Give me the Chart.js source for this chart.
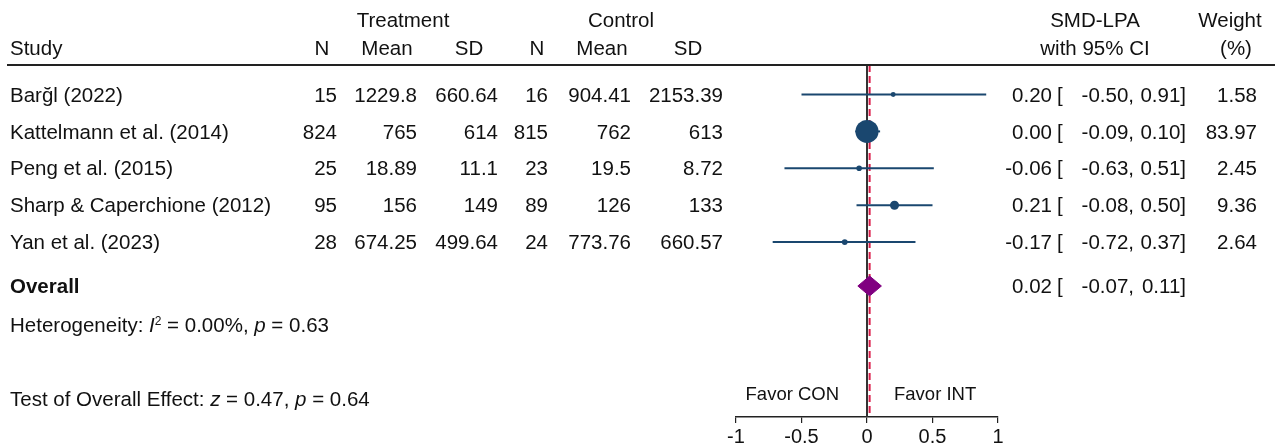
<!DOCTYPE html>
<html>
<head>
<meta charset="utf-8">
<script src="https://cdn.jsdelivr.net/npm/chart.js@4.4.1/dist/chart.umd.min.js"></script>
<style>
html,body{margin:0;padding:0;background:#fff;}
#wrap{width:1279px;height:448px;}
</style>
</head>
<body>
<div id="wrap"><canvas id="c" width="1279" height="448"></canvas></div>
<script>
// ---------- data ----------
const studies = ["Barğl (2022)", "Kattelmann et al. (2014)", "Peng et al. (2015)", "Sharp & Caperchione (2012)", "Yan et al. (2023)"];
const treatN = ["15", "824", "25", "95", "28"];
const treatMean = ["1229.8", "765", "18.89", "156", "674.25"];
const treatSD = ["660.64", "614", "11.1", "149", "499.64"];
const ctrlN = ["16", "815", "23", "89", "24"];
const ctrlMean = ["904.41", "762", "19.5", "126", "773.76"];
const ctrlSD = ["2153.39", "613", "8.72", "133", "660.57"];
const smd = [0.20, 0.00, -0.06, 0.21, -0.17];
const ciLow = [-0.50, -0.09, -0.63, -0.08, -0.72];
const ciHigh = [0.91, 0.10, 0.51, 0.50, 0.37];
const weights = [1.58, 83.97, 2.45, 9.36, 2.64];
const overallEst = 0.02, overallLow = -0.07, overallHigh = 0.11;
const hetI2 = "0.00%", hetP = "0.63";
const testZ = "0.47", testP = "0.64";
const xTicks = [-1, -0.5, 0, 0.5, 1];
const xTickLabels = ["-1", "-0.5", "0", "0.5", "1"];

// ---------- layout constants (row positions in y units) ----------
const Y_MIN = 0.2, Y_MAX = 9.74;
const ROW_OVERALL = 6.19, ROW_HET = 7.25, ROW_TEST = 9.25, ROW_FAVOR = 9.09;
const ROW_HEAD1 = -1.02, ROW_HEAD2 = -0.26;

const NAVY = "#1a476f", PURPLE = "#800080", RED = "#dc1e4b", INK = "#111111";
const FONT = '"Liberation Sans", Arial, Helvetica, sans-serif';
const FS = 20.5;
const TDY = 1.5;

const datasets = [];
// markers
datasets.push({
  type: 'scatter', order: 0,
  data: smd.map((v, i) => ({x: v, y: i + 1})),
  pointRadius: weights.map(w => 1.15 * Math.sqrt(w) + 1),
  pointBackgroundColor: NAVY, pointBorderWidth: 0, showLine: false
});
// overall diamond
const dh = 0.27;
datasets.push({
  type: 'scatter', order: 1, showLine: true,
  data: [{x: overallLow, y: ROW_OVERALL}, {x: overallEst, y: ROW_OVERALL - dh}, {x: overallHigh, y: ROW_OVERALL}, {x: overallEst, y: ROW_OVERALL + dh}, {x: overallLow, y: ROW_OVERALL}],
  borderColor: PURPLE, borderWidth: 1, backgroundColor: PURPLE, fill: 'shape', pointRadius: 0, tension: 0
});
// CI lines
smd.forEach((v, i) => {
  datasets.push({
    type: 'scatter', order: 2, showLine: true,
    data: [{x: ciLow[i], y: i + 1}, {x: ciHigh[i], y: i + 1}],
    borderColor: NAVY, borderWidth: 2, pointRadius: 0
  });
});
// overall effect dashed line
datasets.push({
  type: 'scatter', order: 3, showLine: true,
  data: [{x: overallEst, y: Y_MIN}, {x: overallEst, y: Y_MAX}],
  borderColor: RED, borderWidth: 2, borderDash: [7, 4], pointRadius: 0
});
// no-effect line
datasets.push({
  type: 'scatter', order: 4, showLine: true,
  data: [{x: 0, y: Y_MIN}, {x: 0, y: Y_MAX}],
  borderColor: "#333333", borderWidth: 2, pointRadius: 0
});

function txt(ctx, s, x, y, align, font) {
  ctx.font = font || (FS + 'px ' + FONT);
  ctx.textAlign = align || 'left';
  ctx.textBaseline = 'middle';
  ctx.fillStyle = INK;
  ctx.fillText(s, x, y + TDY);
}
function rich(ctx, segs, x, y) {
  let cx = x;
  ctx.textAlign = 'left';
  ctx.textBaseline = 'middle';
  ctx.fillStyle = INK;
  segs.forEach(([s, style]) => {
    let f = FS + 'px ' + FONT, dy = 0;
    if (style === 'i') f = 'italic ' + FS + 'px ' + FONT;
    if (style === 'sup') { f = Math.round(FS * 0.6) + 'px ' + FONT; dy = -5; }
    ctx.font = f;
    ctx.fillText(s, cx, y + dy + TDY);
    cx += ctx.measureText(s).width;
  });
}

const textPlugin = {
  id: 'forestText',
  afterDraw(chart) {
    const ctx = chart.ctx;
    const ys = chart.scales.y, xs = chart.scales.x;
    const top = chart.chartArea.top;
    ctx.save();
    // header rule
    ctx.strokeStyle = "#222"; ctx.lineWidth = 2;
    ctx.beginPath(); ctx.moveTo(7, top); ctx.lineTo(1275, top); ctx.stroke();
    const h1 = ys.getPixelForValue(ROW_HEAD1), h2 = ys.getPixelForValue(ROW_HEAD2);
    txt(ctx, "Treatment", 403, h1, 'center');
    txt(ctx, "Control", 621, h1, 'center');
    txt(ctx, "SMD-LPA", 1095, h1, 'center');
    txt(ctx, "Weight", 1230, h1, 'center');
    txt(ctx, "Study", 10, h2, 'left');
    txt(ctx, "N", 322, h2, 'center');
    txt(ctx, "Mean", 387, h2, 'center');
    txt(ctx, "SD", 469, h2, 'center');
    txt(ctx, "N", 537, h2, 'center');
    txt(ctx, "Mean", 602, h2, 'center');
    txt(ctx, "SD", 688, h2, 'center');
    txt(ctx, "with 95% CI", 1095, h2, 'center');
    txt(ctx, "(%)", 1236, h2, 'center');
    const ciText = (est, lo, hi, y) => {
      txt(ctx, est.toFixed(2), 1052, y, 'right');
      txt(ctx, "[", 1057, y, 'left');
      txt(ctx, lo.toFixed(2) + ",", 1134, y, 'right');
      txt(ctx, hi.toFixed(2) + "]", 1186, y, 'right');
    };
    studies.forEach((s, i) => {
      const y = ys.getPixelForValue(i + 1);
      txt(ctx, s, 10, y, 'left');
      txt(ctx, treatN[i], 337, y, 'right');
      txt(ctx, treatMean[i], 417, y, 'right');
      txt(ctx, treatSD[i], 498, y, 'right');
      txt(ctx, ctrlN[i], 548, y, 'right');
      txt(ctx, ctrlMean[i], 631, y, 'right');
      txt(ctx, ctrlSD[i], 723, y, 'right');
      ciText(smd[i], ciLow[i], ciHigh[i], y);
      txt(ctx, weights[i].toFixed(2), 1257, y, 'right');
    });
    const yo = ys.getPixelForValue(ROW_OVERALL);
    txt(ctx, "Overall", 10, yo, 'left', 'bold ' + FS + 'px ' + FONT);
    ciText(overallEst, overallLow, overallHigh, yo);
    rich(ctx, [["Heterogeneity: ", 'n'], ["I", 'i'], ["2", 'sup'], [" = " + hetI2 + ", ", 'n'], ["p", 'i'], [" = " + hetP, 'n']], 10, ys.getPixelForValue(ROW_HET));
    rich(ctx, [["Test of Overall Effect: ", 'n'], ["z", 'i'], [" = " + testZ + ", ", 'n'], ["p", 'i'], [" = " + testP, 'n']], 10, ys.getPixelForValue(ROW_TEST));
    const yf = ys.getPixelForValue(ROW_FAVOR);
    const ff = '18.5px ' + FONT;
    txt(ctx, "Favor CON", xs.getPixelForValue(-0.57), yf, 'center', ff);
    txt(ctx, "Favor INT", xs.getPixelForValue(0.52), yf, 'center', ff);
    ctx.restore();
  }
};

new Chart(document.getElementById('c'), {
  type: 'scatter',
  data: {datasets},
  options: {
    responsive: false, animation: false,
    layout: {padding: {left: 736, right: 281, top: 65, bottom: 0}},
    plugins: {legend: {display: false}, tooltip: {enabled: false}},
    scales: {
      x: {
        type: 'linear', min: -1, max: 1,
        afterBuildTicks: (axis) => { axis.ticks = xTicks.map(v => ({value: v})); },
        afterFit: (axis) => { axis.height = 31; },
        ticks: {
          color: INK, padding: 3, maxRotation: 0, autoSkip: false,
          font: {family: FONT, size: 20, lineHeight: 1.1},
          callback: (v) => xTickLabels[xTicks.indexOf(v)]
        },
        grid: {drawOnChartArea: false, drawTicks: true, tickLength: 6, color: "#222", lineWidth: 1.2},
        border: {display: true, color: "#222", width: 1.5}
      },
      y: {type: 'linear', min: Y_MIN, max: Y_MAX, reverse: true, display: false}
    }
  },
  plugins: [textPlugin]
});
</script>
</body>
</html>
